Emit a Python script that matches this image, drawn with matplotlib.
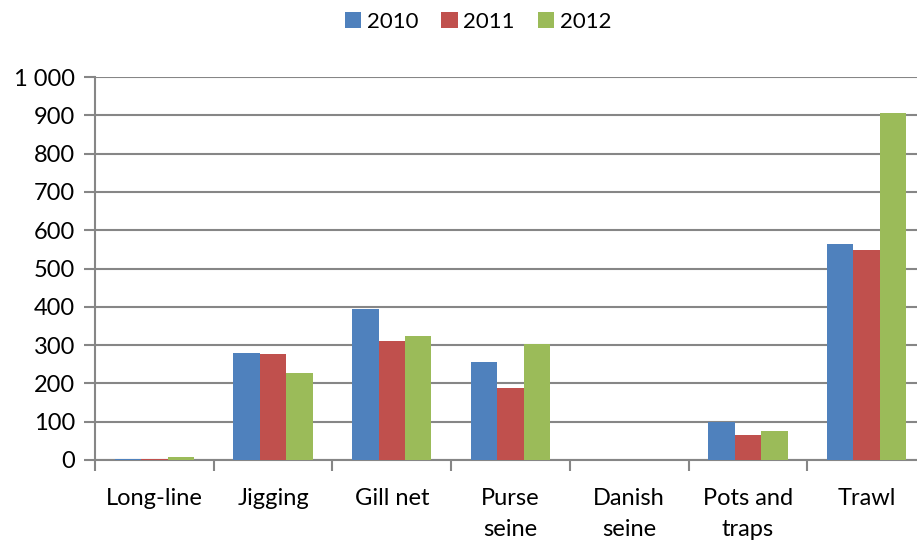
import matplotlib
matplotlib.use("Agg")
import matplotlib.pyplot as plt
import numpy as np
from matplotlib.ticker import FuncFormatter

plt.rcParams['font.family'] = ['Lato', 'DejaVu Sans']

categories = ["Long-line", "Jigging", "Gill net", "Purse\nseine", "Danish\nseine", "Pots and\ntraps", "Trawl"]
years = ["2010", "2011", "2012"]
v2010 = [3, 280, 395, 257, 0, 99, 564]
v2011 = [2, 278, 312, 187, 0, 65, 547]
v2012 = [9, 228, 325, 304, 0, 75, 906]
colors = ["#4F81BD", "#C0504D", "#9BBB59"]

fig = plt.figure(figsize=(9.17, 5.41), dpi=100)
ax = fig.add_axes([95/917, 81/541, 831/917, 383/541])

x = np.arange(len(categories))
bw = 0.223
for i, (vals, c, lab) in enumerate(zip([v2010, v2011, v2012], colors, years)):
    ax.bar(x + (i - 1) * bw, vals, width=bw, color=c, label=lab, zorder=3)

ax.set_xlim(-0.5, len(categories) - 0.5)
ax.set_ylim(0, 1000)
ax.set_yticks(np.arange(0, 1001, 100))
ax.yaxis.set_major_formatter(FuncFormatter(lambda v, p: f"{int(v):,}".replace(",", " ")))
ax.grid(axis='y', color='#868686', linewidth=1.5, zorder=0)
ax.set_axisbelow(True)

for s in ['top', 'right']:
    ax.spines[s].set_visible(False)
for s in ['left', 'bottom']:
    ax.spines[s].set_color('#868686')
    ax.spines[s].set_linewidth(1.5)

ax.set_xticks(np.arange(-0.5, len(categories), 1.0))
ax.set_xticklabels([])
ax.set_xticks(x, minor=True)
ax.set_xticklabels(categories, minor=True, fontsize=17, linespacing=1.6)
ax.tick_params(axis='x', which='major', length=8, width=1.5, color='#868686', direction='out')
ax.tick_params(axis='x', which='minor', length=0, pad=20)
ax.tick_params(axis='y', length=8, width=1.5, color='#868686', labelsize=17, pad=6.5)

handles, labels = ax.get_legend_handles_labels()
fig.legend(handles, labels, loc='center', bbox_to_anchor=(478/917, 1 - 22/541), ncol=3,
           frameon=False, fontsize=16, handlelength=0.73, handleheight=0.73,
           handletextpad=0.25, columnspacing=1.05)

fig.savefig("out.png", dpi=100)
